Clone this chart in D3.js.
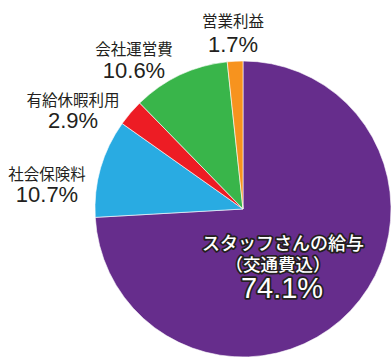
<!DOCTYPE html>
<meta charset="utf-8">
<script src="https://d3js.org/d3.v7.min.js"></script>
<style>
  body { margin: 0; background: #fff; }
  text { font-family: "Noto Sans CJK JP", sans-serif; }
  .pct { font-family: "Liberation Sans", Arial, sans-serif; }
</style>
<div id="chart"></div>
<script>
// data
var categories = ["スタッフさんの給与", "社会保険料", "有給休暇利用", "会社運営費", "営業利益"];
var values = [74.1, 10.7, 2.9, 10.6, 1.7];
var colors = ["#662d8c", "#29abe2", "#ed1c24", "#39b54a", "#f7931e"];
var pctLabels = ["74.1%", "10.7%", "2.9%", "10.6%", "1.7%"];

var width = 392, height = 358;
var cx = 243, cy = 209, r = 148;

var svg = d3.select("#chart")
  .append("svg")
    .attr("width", width)
    .attr("height", height);

var pie = d3.pie().sort(null).value(function(d) { return d; });
var arc = d3.arc().innerRadius(0).outerRadius(r);

var g = svg.append("g")
  .attr("transform", "translate(" + cx + "," + cy + ")");

g.selectAll("path")
  .data(pie(values))
  .enter()
  .append("path")
    .attr("d", arc)
    .attr("fill", function(d, i) { return colors[i]; })
    .attr("stroke", "#fff")
    .attr("stroke-width", 0.6);

// outside labels: [index, x, name baseline, pct baseline]
var outside = [
  [4, 233, 27, 52],
  [3, 134, 55, 78],
  [2, 73, 106, 128],
  [1, 47, 180, 202]
];
outside.forEach(function(o) {
  svg.append("text")
    .attr("x", o[1])
    .attr("y", o[2])
    .attr("text-anchor", "middle")
    .attr("font-size", 15.5)
    .attr("fill", "#231f20")
    .text(categories[o[0]]);
  svg.append("text")
    .attr("class", "pct")
    .attr("x", o[1])
    .attr("y", o[3])
    .attr("text-anchor", "middle")
    .attr("font-size", 22)
    .attr("fill", "#231f20")
    .text(pctLabels[o[0]]);
});

// label inside the big slice, white with dark outline
var inner = svg.append("g")
  .attr("fill", "#fff")
  .attr("stroke", "#231f20")
  .attr("stroke-width", 3.5)
  .attr("stroke-linejoin", "round")
  .style("paint-order", "stroke");
inner.append("text")
  .attr("x", 283).attr("y", 250)
  .attr("text-anchor", "middle")
  .attr("font-size", 18)
  .attr("font-weight", 500)
  .text(categories[0]);
inner.append("text")
  .attr("x", 278).attr("y", 271)
  .attr("text-anchor", "middle")
  .attr("font-size", 17.5)
  .attr("font-weight", 500)
  .text("（交通費込）");
inner.append("text")
  .attr("class", "pct")
  .attr("x", 282).attr("y", 298)
  .attr("text-anchor", "middle")
  .attr("font-size", 29)
  .text(pctLabels[0]);
</script>
